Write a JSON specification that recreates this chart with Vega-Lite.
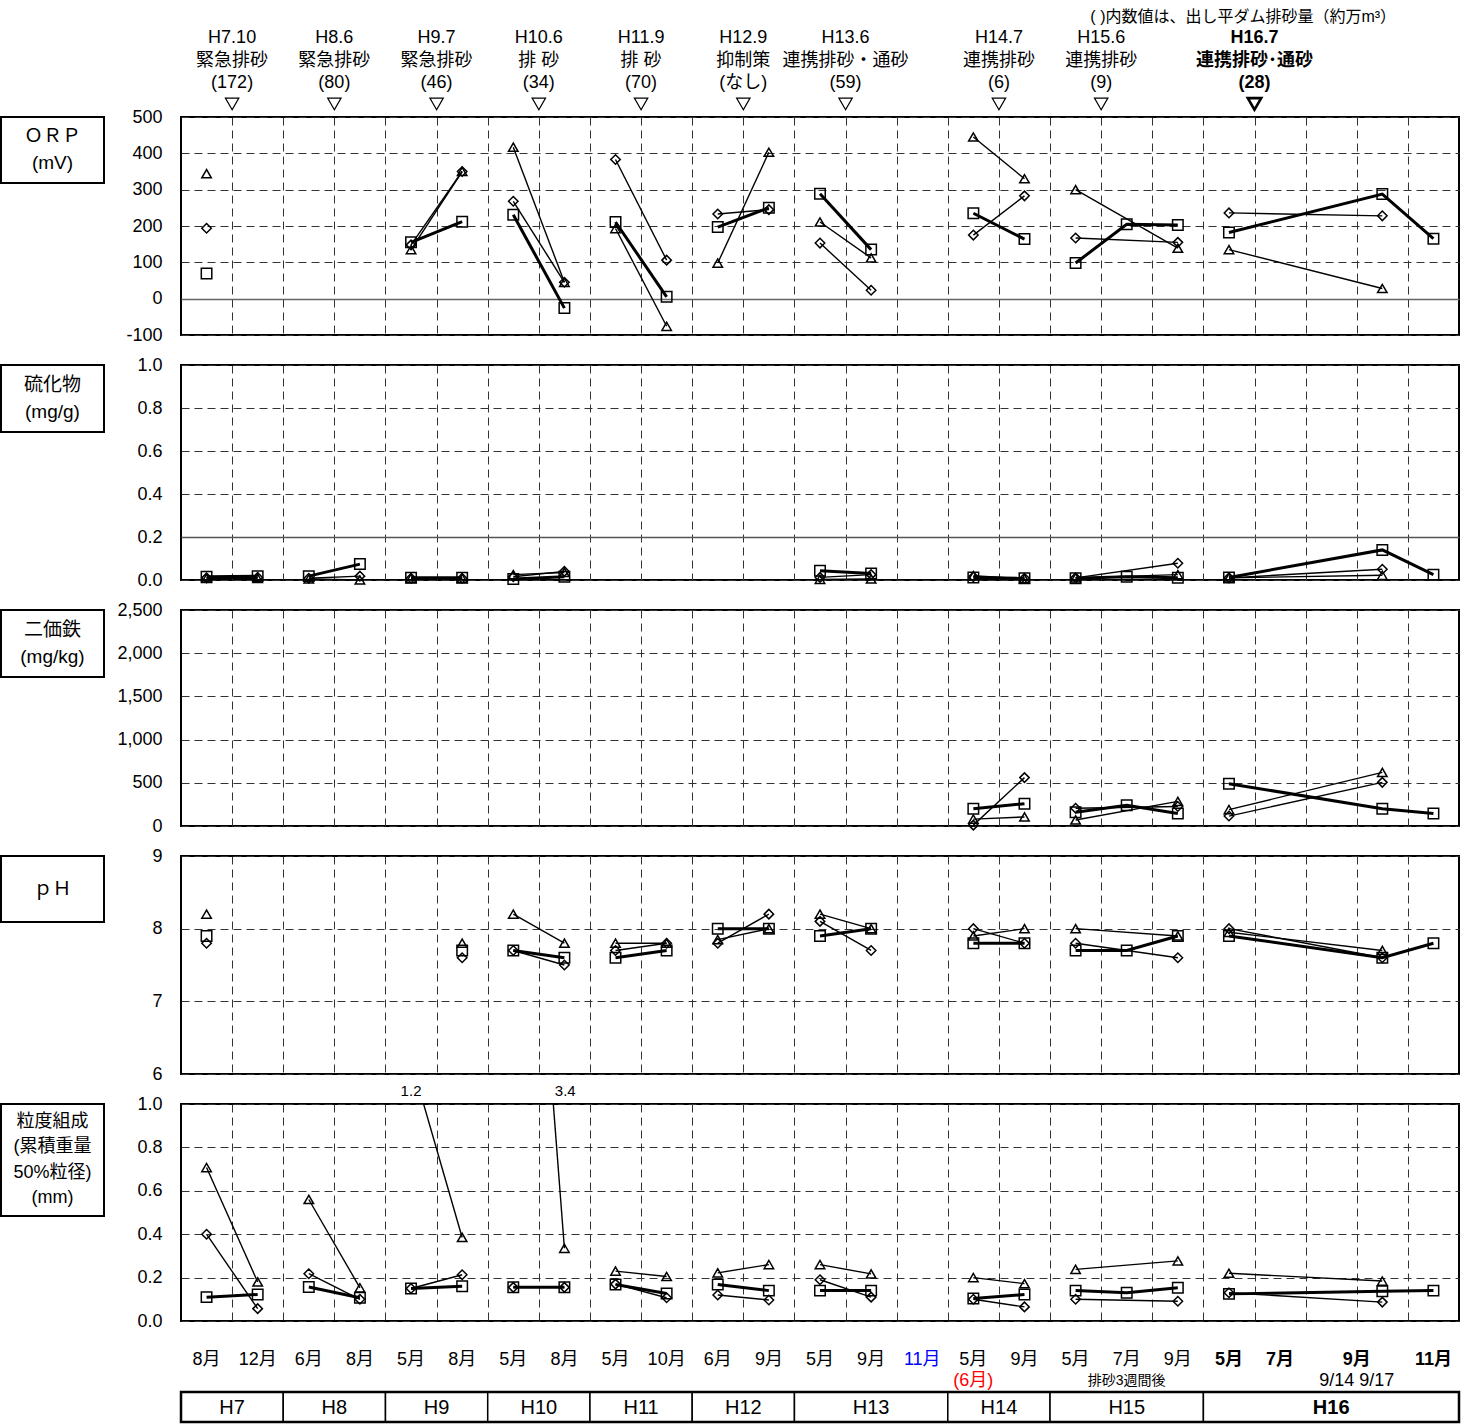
{
  "$schema": "https://vega.github.io/schema/vega-lite/v6.json",
  "padding": 0,
  "background": "white",
  "config": {
    "font": "Liberation Sans, Noto Sans CJK JP",
    "view": {"stroke": "#000", "strokeWidth": 2},
    "axis": {"labelFontSize": 18, "labelColor": "#000"},
    "axisX": {"grid": true, "labels": false, "ticks": false, "domain": false, "gridDash": [8, 5], "gridColor": "#333", "gridWidth": 1},
    "axisY": {"grid": true, "ticks": false, "domain": false, "gridDash": [8, 5], "gridColor": "#333", "gridWidth": 1, "labelPadding": 19, "labelFlush": false, "labelOverlap": false},
    "text": {"color": "#000"}
  },
  "datasets": {
    "obs": [
      {"p": "ORP", "g": "H7", "u": 0.5, "s1": 69, "s2": 194, "s3": 344},
      {"p": "ORP", "g": "H9", "u": 4.5, "s1": 155, "s2": 148, "s3": 135},
      {"p": "ORP", "g": "H9", "u": 5.5, "s1": 212, "s2": 350, "s3": 350},
      {"p": "ORP", "g": "H10", "u": 6.5, "s1": 231, "s2": 268, "s3": 417},
      {"p": "ORP", "g": "H10", "u": 7.5, "s1": -26, "s2": 45, "s3": 45},
      {"p": "ORP", "g": "H11", "u": 8.5, "s1": 211, "s2": 383, "s3": 193},
      {"p": "ORP", "g": "H11", "u": 9.5, "s1": 5, "s2": 106, "s3": -76},
      {"p": "ORP", "g": "H12", "u": 10.5, "s1": 197, "s2": 233, "s3": 98},
      {"p": "ORP", "g": "H12", "u": 11.5, "s1": 250, "s2": 245, "s3": 403},
      {"p": "ORP", "g": "H13", "u": 12.5, "s1": 289, "s2": 153, "s3": 211},
      {"p": "ORP", "g": "H13", "u": 13.5, "s1": 135, "s2": 23, "s3": 112},
      {"p": "ORP", "g": "H14", "u": 15.5, "s1": 235, "s2": 175, "s3": 445},
      {"p": "ORP", "g": "H14", "u": 16.5, "s1": 164, "s2": 283, "s3": 330},
      {"p": "ORP", "g": "H15", "u": 17.5, "s1": 98, "s2": 167, "s3": 300},
      {"p": "ORP", "g": "H15", "u": 18.5, "s1": 205},
      {"p": "ORP", "g": "H15", "u": 19.5, "s1": 203, "s2": 155, "s3": 139},
      {"p": "ORP", "g": "H16", "u": 20.5, "s1": 182, "s2": 236, "s3": 135},
      {"p": "ORP", "g": "H16", "u": 23.5, "s1": 288, "s2": 228, "s3": 28},
      {"p": "ORP", "g": "H16", "u": 24.5, "s1": 165},

      {"p": "S", "g": "H7", "u": 0.5, "s1": 0.015, "s2": 0.01, "s3": 0.008},
      {"p": "S", "g": "H7", "u": 1.5, "s1": 0.018, "s2": 0.012, "s3": 0.008},
      {"p": "S", "g": "H8", "u": 2.5, "s1": 0.018, "s2": 0.008, "s3": 0.005},
      {"p": "S", "g": "H8", "u": 3.5, "s1": 0.074, "s2": 0.018, "s3": 0.0},
      {"p": "S", "g": "H9", "u": 4.5, "s1": 0.01, "s2": 0.008, "s3": 0.008},
      {"p": "S", "g": "H9", "u": 5.5, "s1": 0.01, "s2": 0.008, "s3": 0.008},
      {"p": "S", "g": "H10", "u": 6.5, "s1": 0.005, "s2": 0.015, "s3": 0.025},
      {"p": "S", "g": "H10", "u": 7.5, "s1": 0.015, "s2": 0.04, "s3": 0.035},
      {"p": "S", "g": "H13", "u": 12.5, "s1": 0.043, "s2": 0.012, "s3": 0.003},
      {"p": "S", "g": "H13", "u": 13.5, "s1": 0.03, "s2": 0.025, "s3": 0.005},
      {"p": "S", "g": "H14", "u": 15.5, "s1": 0.012, "s2": 0.015, "s3": 0.02},
      {"p": "S", "g": "H14", "u": 16.5, "s1": 0.008, "s2": 0.008, "s3": 0.006},
      {"p": "S", "g": "H15", "u": 17.5, "s1": 0.008, "s2": 0.01, "s3": 0.01},
      {"p": "S", "g": "H15", "u": 18.5, "s1": 0.015},
      {"p": "S", "g": "H15", "u": 19.5, "s1": 0.01, "s2": 0.078, "s3": 0.025},
      {"p": "S", "g": "H16", "u": 20.5, "s1": 0.012, "s2": 0.01, "s3": 0.01},
      {"p": "S", "g": "H16", "u": 23.5, "s1": 0.14, "s2": 0.05, "s3": 0.022},
      {"p": "S", "g": "H16", "u": 24.5, "s1": 0.025},

      {"p": "Fe", "g": "H14", "u": 15.5, "s1": 200, "s2": 10, "s3": 80},
      {"p": "Fe", "g": "H14", "u": 16.5, "s1": 258, "s2": 560, "s3": 105},
      {"p": "Fe", "g": "H15", "u": 17.5, "s1": 160, "s2": 205, "s3": 70},
      {"p": "Fe", "g": "H15", "u": 18.5, "s1": 240},
      {"p": "Fe", "g": "H15", "u": 19.5, "s1": 145, "s2": 225, "s3": 285},
      {"p": "Fe", "g": "H16", "u": 20.5, "s1": 490, "s2": 115, "s3": 190},
      {"p": "Fe", "g": "H16", "u": 23.5, "s1": 200, "s2": 505, "s3": 620},
      {"p": "Fe", "g": "H16", "u": 24.5, "s1": 145},

      {"p": "pH", "g": "H7", "u": 0.5, "s1": 7.9, "s2": 7.8, "s3": 8.2},
      {"p": "pH", "g": "H9", "u": 5.5, "s1": 7.7, "s2": 7.6, "s3": 7.8},
      {"p": "pH", "g": "H10", "u": 6.5, "s1": 7.7, "s2": 7.7, "s3": 8.2},
      {"p": "pH", "g": "H10", "u": 7.5, "s1": 7.6, "s2": 7.5, "s3": 7.8},
      {"p": "pH", "g": "H11", "u": 8.5, "s1": 7.6, "s2": 7.7, "s3": 7.8},
      {"p": "pH", "g": "H11", "u": 9.5, "s1": 7.7, "s2": 7.8, "s3": 7.8},
      {"p": "pH", "g": "H12", "u": 10.5, "s1": 8.0, "s2": 7.8, "s3": 7.85},
      {"p": "pH", "g": "H12", "u": 11.5, "s1": 8.0, "s2": 8.2, "s3": 8.0},
      {"p": "pH", "g": "H13", "u": 12.5, "s1": 7.9, "s2": 8.1, "s3": 8.2},
      {"p": "pH", "g": "H13", "u": 13.5, "s1": 8.0, "s2": 7.7, "s3": 8.0},
      {"p": "pH", "g": "H14", "u": 15.5, "s1": 7.8, "s2": 8.0, "s3": 7.9},
      {"p": "pH", "g": "H14", "u": 16.5, "s1": 7.8, "s2": 7.8, "s3": 8.0},
      {"p": "pH", "g": "H15", "u": 17.5, "s1": 7.7, "s2": 7.8, "s3": 8.0},
      {"p": "pH", "g": "H15", "u": 18.5, "s1": 7.7},
      {"p": "pH", "g": "H15", "u": 19.5, "s1": 7.9, "s2": 7.6, "s3": 7.9},
      {"p": "pH", "g": "H16", "u": 20.5, "s1": 7.9, "s2": 8.0, "s3": 7.95},
      {"p": "pH", "g": "H16", "u": 23.5, "s1": 7.6, "s2": 7.6, "s3": 7.7},
      {"p": "pH", "g": "H16", "u": 24.5, "s1": 7.8},

      {"p": "D", "g": "H7", "u": 0.5, "s1": 0.11, "s2": 0.4, "s3": 0.707},
      {"p": "D", "g": "H7", "u": 1.5, "s1": 0.122, "s2": 0.057, "s3": 0.18},
      {"p": "D", "g": "H8", "u": 2.5, "s1": 0.157, "s2": 0.218, "s3": 0.56},
      {"p": "D", "g": "H8", "u": 3.5, "s1": 0.107, "s2": 0.1, "s3": 0.153},
      {"p": "D", "g": "H9", "u": 4.5, "s1": 0.15, "s2": 0.15, "s3": 1.2},
      {"p": "D", "g": "H9", "u": 5.5, "s1": 0.16, "s2": 0.213, "s3": 0.385},
      {"p": "D", "g": "H10", "u": 6.5, "s1": 0.155, "s2": 0.155, "s3": 3.4},
      {"p": "D", "g": "H10", "u": 7.5, "s1": 0.155, "s2": 0.155, "s3": 0.335},
      {"p": "D", "g": "H11", "u": 8.5, "s1": 0.168, "s2": 0.17, "s3": 0.23},
      {"p": "D", "g": "H11", "u": 9.5, "s1": 0.127, "s2": 0.107, "s3": 0.205},
      {"p": "D", "g": "H12", "u": 10.5, "s1": 0.168, "s2": 0.12, "s3": 0.222},
      {"p": "D", "g": "H12", "u": 11.5, "s1": 0.14, "s2": 0.097, "s3": 0.26},
      {"p": "D", "g": "H13", "u": 12.5, "s1": 0.14, "s2": 0.19, "s3": 0.26},
      {"p": "D", "g": "H13", "u": 13.5, "s1": 0.14, "s2": 0.11, "s3": 0.217},
      {"p": "D", "g": "H14", "u": 15.5, "s1": 0.104, "s2": 0.1, "s3": 0.2},
      {"p": "D", "g": "H14", "u": 16.5, "s1": 0.122, "s2": 0.065, "s3": 0.172},
      {"p": "D", "g": "H15", "u": 17.5, "s1": 0.14, "s2": 0.1, "s3": 0.238},
      {"p": "D", "g": "H15", "u": 18.5, "s1": 0.13},
      {"p": "D", "g": "H15", "u": 19.5, "s1": 0.153, "s2": 0.091, "s3": 0.277},
      {"p": "D", "g": "H16", "u": 20.5, "s1": 0.125, "s2": 0.13, "s3": 0.22},
      {"p": "D", "g": "H16", "u": 23.5, "s1": 0.137, "s2": 0.087, "s3": 0.184},
      {"p": "D", "g": "H16", "u": 24.5, "s1": 0.14}
    ],
    "events": [
      {"u": 1, "lines": ["H7.10", "緊急排砂", "(172)"]},
      {"u": 3, "lines": ["H8.6", "緊急排砂", "(80)"]},
      {"u": 5, "lines": ["H9.7", "緊急排砂", "(46)"]},
      {"u": 7, "lines": ["H10.6", "排 砂", "(34)"]},
      {"u": 9, "lines": ["H11.9", "排 砂", "(70)"]},
      {"u": 11, "lines": ["H12.9", "抑制策", "(なし)"]},
      {"u": 13, "lines": ["H13.6", "連携排砂・通砂", "(59)"]},
      {"u": 16, "lines": ["H14.7", "連携排砂", "(6)"]},
      {"u": 18, "lines": ["H15.6", "連携排砂", "(9)"]},
      {"u": 21, "lines": ["H16.7", "連携排砂･通砂", "(28)"]}
    ],
    "months": [
      {"u": 0.5, "m": "8月"}, {"u": 1.5, "m": "12月"}, {"u": 2.5, "m": "6月"}, {"u": 3.5, "m": "8月"},
      {"u": 4.5, "m": "5月"}, {"u": 5.5, "m": "8月"}, {"u": 6.5, "m": "5月"}, {"u": 7.5, "m": "8月"},
      {"u": 8.5, "m": "5月"}, {"u": 9.5, "m": "10月"}, {"u": 10.5, "m": "6月"}, {"u": 11.5, "m": "9月"},
      {"u": 12.5, "m": "5月"}, {"u": 13.5, "m": "9月"}, {"u": 14.5, "m": "11月"}, {"u": 15.5, "m": "5月"},
      {"u": 16.5, "m": "9月"}, {"u": 17.5, "m": "5月"}, {"u": 18.5, "m": "7月"}, {"u": 19.5, "m": "9月"},
      {"u": 20.5, "m": "5月"}, {"u": 21.5, "m": "7月"}, {"u": 23, "m": "9月"}, {"u": 24.5, "m": "11月"}
    ],
    "subnotes": [
      {"u": 15.5, "t": "(6月)"},
      {"u": 18.5, "t": "排砂3週間後"},
      {"u": 23, "t": "9/14  9/17"}
    ],
    "years": [
      {"y": "H7", "u0": 0, "u1": 2}, {"y": "H8", "u0": 2, "u1": 4}, {"y": "H9", "u0": 4, "u1": 6},
      {"y": "H10", "u0": 6, "u1": 8}, {"y": "H11", "u0": 8, "u1": 10}, {"y": "H12", "u0": 10, "u1": 12},
      {"y": "H13", "u0": 12, "u1": 15}, {"y": "H14", "u0": 15, "u1": 17}, {"y": "H15", "u0": 17, "u1": 20},
      {"y": "H16", "u0": 20, "u1": 25}
    ]
  },
  "columns": 2,
  "spacing": {"row": 30, "column": 77},
  "bounds": "flush",
  "align": "each",
  "concat": [
    {"width": 103, "height": 87, "view": {"stroke": null}, "data": {"values": [{}]}, "mark": {"type": "text", "text": ""}},
    {
      "width": 1278,
      "height": 87,
      "view": {"stroke": null},
      "data": {"name": "events"},
      "layer": [
        {
          "transform": [{"filter": "datum.u !== 21"}],
          "mark": {"type": "text", "fontSize": 18, "lineHeight": 22.5, "baseline": "middle"},
          "encoding": {
            "x": {"field": "u", "type": "quantitative", "scale": {"domain": [0, 25], "nice": false, "zero": false}, "axis": null},
            "y": {"datum": 1.75, "type": "quantitative", "scale": {"domain": [0, 4], "reverse": true, "nice": false, "zero": false}, "axis": null},
            "text": {"field": "lines", "type": "nominal"}
          }
        },
        {
          "transform": [{"filter": "datum.u === 21"}],
          "mark": {"type": "text", "fontSize": 18, "lineHeight": 22.5, "baseline": "middle", "fontWeight": "bold"},
          "encoding": {
            "x": {"field": "u", "type": "quantitative", "axis": null},
            "y": {"datum": 1.75, "type": "quantitative", "axis": null},
            "text": {"field": "lines", "type": "nominal"}
          }
        },
        {
          "transform": [{"filter": "datum.u !== 21"}],
          "mark": {"type": "point", "shape": "triangle-down", "filled": false, "color": "#000", "size": 180, "strokeWidth": 1.2, "opacity": 1},
          "encoding": {
            "x": {"field": "u", "type": "quantitative", "axis": null},
            "y": {"datum": 4.78, "type": "quantitative", "axis": null}
          }
        },
        {
          "transform": [{"filter": "datum.u === 21"}],
          "mark": {"type": "point", "shape": "triangle-down", "filled": false, "color": "#000", "size": 180, "strokeWidth": 2.6, "opacity": 1},
          "encoding": {
            "x": {"field": "u", "type": "quantitative", "axis": null},
            "y": {"datum": 4.78, "type": "quantitative", "axis": null}
          }
        },
        {
          "data": {"values": [{"t": "( )内数値は、出し平ダム排砂量（約万m³）"}]},
          "mark": {"type": "text", "fontSize": 16, "align": "right", "baseline": "middle"},
          "encoding": {
            "x": {"datum": 23.77, "type": "quantitative", "axis": null},
            "y": {"datum": 0.78, "type": "quantitative", "axis": null},
            "text": {"field": "t", "type": "nominal"}
          }
        }
      ]
    },

    {
      "width": 103, "height": 66,
      "data": {"values": [{"t": ["ＯＲＰ", "(mV)"]}]},
      "mark": {"type": "text", "fontSize": 19, "lineHeight": 27, "baseline": "middle"},
      "encoding": {
        "x": {"datum": 0.5, "type": "quantitative", "scale": {"domain": [0, 1]}, "axis": null},
        "y": {"datum": 0.705, "type": "quantitative", "scale": {"domain": [0, 1]}, "axis": null},
        "text": {"field": "t", "type": "nominal"}
      }
    },
    {
      "width": 1278, "height": 218,
      "data": {"name": "obs"},
      "transform": [
        {"filter": "datum.p === 'ORP'"},
        {"fold": ["s1", "s2", "s3"], "as": ["s", "v"]},
        {"filter": "isValid(datum.v)"}
      ],
      "encoding": {
        "x": {"field": "u", "type": "quantitative", "scale": {"domain": [0, 25], "nice": false, "zero": false},
              "axis": {"title": null, "values": [1,2,3,4,5,6,7,8,9,10,11,12,13,14,15,16,17,18,19,20,21,22,23,24]}},
        "y": {"field": "v", "type": "quantitative", "scale": {"domain": [-100, 500], "nice": false, "zero": false},
              "axis": {"title": null, "values": [-100, 0, 100, 200, 300, 400, 500],
                       "labelExpr": "replace(datum.label, '−', '-')",
                       "gridDash": {"condition": {"test": "datum.value === 0", "value": [1, 0]}, "value": [8, 5]},
                       "gridColor": {"condition": {"test": "datum.value === 0", "value": "#666"}, "value": "#333"},
                       "gridWidth": {"condition": {"test": "datum.value === 0", "value": 1.5}, "value": 1}}}
      },
      "layer": [
        {"transform": [{"filter": "datum.s !== 's1'"}], "mark": {"type": "line", "color": "#000", "strokeWidth": 1.4},
         "encoding": {"detail": [{"field": "g"}, {"field": "s"}]}},
        {"transform": [{"filter": "datum.s === 's1'"}], "mark": {"type": "line", "color": "#000", "strokeWidth": 3},
         "encoding": {"detail": {"field": "g"}}},
        {"mark": {"type": "point", "filled": false, "color": "#000", "strokeWidth": 1.5, "opacity": 1},
         "encoding": {
           "shape": {"field": "s", "type": "nominal", "scale": {"domain": ["s1", "s2", "s3"], "range": ["square", "diamond", "triangle-up"]}, "legend": null},
           "size": {"condition": {"test": "datum.s === 's1'", "value": 110}, "value": 90}
         }}
      ]
    },

    {
      "width": 103, "height": 67,
      "data": {"values": [{"t": ["硫化物", "(mg/g)"]}]},
      "mark": {"type": "text", "fontSize": 19, "lineHeight": 27, "baseline": "middle"},
      "encoding": {
        "x": {"datum": 0.5, "type": "quantitative", "scale": {"domain": [0, 1]}, "axis": null},
        "y": {"datum": 0.7, "type": "quantitative", "scale": {"domain": [0, 1]}, "axis": null},
        "text": {"field": "t", "type": "nominal"}
      }
    },
    {
      "width": 1278, "height": 215,
      "data": {"name": "obs"},
      "transform": [
        {"filter": "datum.p === 'S'"},
        {"fold": ["s1", "s2", "s3"], "as": ["s", "v"]},
        {"filter": "isValid(datum.v)"}
      ],
      "encoding": {
        "x": {"field": "u", "type": "quantitative", "scale": {"domain": [0, 25], "nice": false, "zero": false},
              "axis": {"title": null, "values": [1,2,3,4,5,6,7,8,9,10,11,12,13,14,15,16,17,18,19,20,21,22,23,24]}},
        "y": {"field": "v", "type": "quantitative", "scale": {"domain": [0, 1], "nice": false, "zero": false},
              "axis": {"title": null, "values": [0, 0.2, 0.4, 0.6, 0.8, 1.0], "format": ".1f",
                       "gridDash": {"condition": {"test": "datum.value === 0.2", "value": [1, 0]}, "value": [8, 5]},
                       "gridColor": {"condition": {"test": "datum.value === 0.2", "value": "#555"}, "value": "#333"},
                       "gridWidth": {"condition": {"test": "datum.value === 0.2", "value": 1.6}, "value": 1}}}
      },
      "layer": [
        {"data": {"values": [{"t": "水産用水基準における正常泥の範囲：硫化物≦0.2(mg/g)"}]},
         "mark": {"type": "text", "align": "left", "baseline": "bottom", "dy": -3, "fontSize": 17},
         "encoding": {
           "x": {"datum": 0.2, "type": "quantitative"},
           "y": {"datum": 0.2, "type": "quantitative"},
           "text": {"field": "t", "type": "nominal"}
         }},
        {"transform": [{"filter": "datum.s !== 's1'"}], "mark": {"type": "line", "color": "#000", "strokeWidth": 1.4},
         "encoding": {"detail": [{"field": "g"}, {"field": "s"}]}},
        {"transform": [{"filter": "datum.s === 's1'"}], "mark": {"type": "line", "color": "#000", "strokeWidth": 3},
         "encoding": {"detail": {"field": "g"}}},
        {"mark": {"type": "point", "filled": false, "color": "#000", "strokeWidth": 1.5, "opacity": 1},
         "encoding": {
           "shape": {"field": "s", "type": "nominal", "scale": {"domain": ["s1", "s2", "s3"], "range": ["square", "diamond", "triangle-up"]}, "legend": null},
           "size": {"condition": {"test": "datum.s === 's1'", "value": 110}, "value": 90}
         }}
      ]
    },

    {
      "width": 103, "height": 67,
      "data": {"values": [{"t": ["二価鉄", "(mg/kg)"]}]},
      "mark": {"type": "text", "fontSize": 19, "lineHeight": 27, "baseline": "middle"},
      "encoding": {
        "x": {"datum": 0.5, "type": "quantitative", "scale": {"domain": [0, 1]}, "axis": null},
        "y": {"datum": 0.7, "type": "quantitative", "scale": {"domain": [0, 1]}, "axis": null},
        "text": {"field": "t", "type": "nominal"}
      }
    },
    {
      "width": 1278, "height": 216,
      "data": {"name": "obs"},
      "transform": [
        {"filter": "datum.p === 'Fe'"},
        {"fold": ["s1", "s2", "s3"], "as": ["s", "v"]},
        {"filter": "isValid(datum.v)"}
      ],
      "encoding": {
        "x": {"field": "u", "type": "quantitative", "scale": {"domain": [0, 25], "nice": false, "zero": false},
              "axis": {"title": null, "values": [1,2,3,4,5,6,7,8,9,10,11,12,13,14,15,16,17,18,19,20,21,22,23,24]}},
        "y": {"field": "v", "type": "quantitative", "scale": {"domain": [0, 2500], "nice": false, "zero": false},
              "axis": {"title": null, "values": [0, 500, 1000, 1500, 2000, 2500], "format": ",.0f"}}
      },
      "layer": [
        {"transform": [{"filter": "datum.s !== 's1'"}], "mark": {"type": "line", "color": "#000", "strokeWidth": 1.4},
         "encoding": {"detail": [{"field": "g"}, {"field": "s"}]}},
        {"transform": [{"filter": "datum.s === 's1'"}], "mark": {"type": "line", "color": "#000", "strokeWidth": 3},
         "encoding": {"detail": {"field": "g"}}},
        {"mark": {"type": "point", "filled": false, "color": "#000", "strokeWidth": 1.5, "opacity": 1},
         "encoding": {
           "shape": {"field": "s", "type": "nominal", "scale": {"domain": ["s1", "s2", "s3"], "range": ["square", "diamond", "triangle-up"]}, "legend": null},
           "size": {"condition": {"test": "datum.s === 's1'", "value": 110}, "value": 90}
         }}
      ]
    },

    {
      "width": 103, "height": 66,
      "data": {"values": [{"t": "ｐＨ"}]},
      "mark": {"type": "text", "fontSize": 19, "baseline": "middle"},
      "encoding": {
        "x": {"datum": 0.5, "type": "quantitative", "scale": {"domain": [0, 1]}, "axis": null},
        "y": {"datum": 0.5, "type": "quantitative", "scale": {"domain": [0, 1]}, "axis": null},
        "text": {"field": "t", "type": "nominal"}
      }
    },
    {
      "width": 1278, "height": 218,
      "data": {"name": "obs"},
      "transform": [
        {"filter": "datum.p === 'pH'"},
        {"fold": ["s1", "s2", "s3"], "as": ["s", "v"]},
        {"filter": "isValid(datum.v)"}
      ],
      "encoding": {
        "x": {"field": "u", "type": "quantitative", "scale": {"domain": [0, 25], "nice": false, "zero": false},
              "axis": {"title": null, "values": [1,2,3,4,5,6,7,8,9,10,11,12,13,14,15,16,17,18,19,20,21,22,23,24]}},
        "y": {"field": "v", "type": "quantitative", "scale": {"domain": [6, 9], "nice": false, "zero": false},
              "axis": {"title": null, "values": [6, 7, 8, 9]}}
      },
      "layer": [
        {"transform": [{"filter": "datum.s !== 's1'"}], "mark": {"type": "line", "color": "#000", "strokeWidth": 1.4},
         "encoding": {"detail": [{"field": "g"}, {"field": "s"}]}},
        {"transform": [{"filter": "datum.s === 's1'"}], "mark": {"type": "line", "color": "#000", "strokeWidth": 3},
         "encoding": {"detail": {"field": "g"}}},
        {"mark": {"type": "point", "filled": false, "color": "#000", "strokeWidth": 1.5, "opacity": 1},
         "encoding": {
           "shape": {"field": "s", "type": "nominal", "scale": {"domain": ["s1", "s2", "s3"], "range": ["square", "diamond", "triangle-up"]}, "legend": null},
           "size": {"condition": {"test": "datum.s === 's1'", "value": 110}, "value": 90}
         }}
      ]
    },

    {
      "width": 103, "height": 112,
      "data": {"values": [{"t": ["粒度組成", "(累積重量", "50%粒径)", "(mm)"]}]},
      "mark": {"type": "text", "fontSize": 18, "lineHeight": 25.5, "baseline": "middle"},
      "encoding": {
        "x": {"datum": 0.5, "type": "quantitative", "scale": {"domain": [0, 1]}, "axis": null},
        "y": {"datum": 0.84, "type": "quantitative", "scale": {"domain": [0, 1]}, "axis": null},
        "text": {"field": "t", "type": "nominal"}
      }
    },
    {
      "width": 1278, "height": 217,
      "data": {"name": "obs"},
      "transform": [
        {"filter": "datum.p === 'D'"},
        {"fold": ["s1", "s2", "s3"], "as": ["s", "v"]},
        {"filter": "isValid(datum.v)"}
      ],
      "encoding": {
        "x": {"field": "u", "type": "quantitative", "scale": {"domain": [0, 25], "nice": false, "zero": false},
              "axis": {"title": null, "values": [1,2,3,4,5,6,7,8,9,10,11,12,13,14,15,16,17,18,19,20,21,22,23,24]}},
        "y": {"field": "v", "type": "quantitative", "scale": {"domain": [0, 1], "nice": false, "zero": false},
              "axis": {"title": null, "values": [0, 0.2, 0.4, 0.6, 0.8, 1.0], "format": ".1f"}}
      },
      "layer": [
        {"transform": [{"filter": "datum.s !== 's1'"}], "mark": {"type": "line", "color": "#000", "strokeWidth": 1.4, "clip": true},
         "encoding": {"detail": [{"field": "g"}, {"field": "s"}]}},
        {"transform": [{"filter": "datum.s === 's1'"}], "mark": {"type": "line", "color": "#000", "strokeWidth": 3, "clip": true},
         "encoding": {"detail": {"field": "g"}}},
        {"transform": [{"filter": "datum.v <= 1"}],
         "mark": {"type": "point", "filled": false, "color": "#000", "strokeWidth": 1.5, "opacity": 1},
         "encoding": {
           "shape": {"field": "s", "type": "nominal", "scale": {"domain": ["s1", "s2", "s3"], "range": ["square", "diamond", "triangle-up"]}, "legend": null},
           "size": {"condition": {"test": "datum.s === 's1'", "value": 110}, "value": 90}
         }},
        {"transform": [{"filter": "datum.v > 1 && datum.u < 6"}],
         "mark": {"type": "text", "baseline": "bottom", "dy": -5, "fontSize": 15},
         "encoding": {"y": {"datum": 1, "type": "quantitative"}, "text": {"field": "v", "type": "quantitative"}}},
        {"transform": [{"filter": "datum.v > 1 && datum.u > 6"}],
         "mark": {"type": "text", "baseline": "bottom", "dy": -5, "dx": 52, "fontSize": 15},
         "encoding": {"y": {"datum": 1, "type": "quantitative"}, "text": {"field": "v", "type": "quantitative"}}}
      ]
    },

    {"width": 103, "height": 76, "view": {"stroke": null}, "data": {"values": [{}]}, "mark": {"type": "text", "text": ""}},
    {
      "width": 1278,
      "height": 76,
      "view": {"stroke": null},
      "layer": [
        {
          "data": {"name": "months"},
          "transform": [{"filter": "datum.u < 20"}],
          "mark": {"type": "text", "fontSize": 18, "baseline": "middle"},
          "encoding": {
            "x": {"field": "u", "type": "quantitative", "scale": {"domain": [0, 25], "nice": false, "zero": false}, "axis": null},
            "y": {"datum": 0.9, "type": "quantitative", "scale": {"domain": [0, 7.6], "reverse": true, "nice": false, "zero": false}, "axis": null},
            "text": {"field": "m", "type": "nominal"},
            "color": {"condition": {"test": "datum.u === 14.5", "value": "#0000ff"}, "value": "#000"}
          }
        },
        {
          "data": {"name": "months"},
          "transform": [{"filter": "datum.u >= 20"}],
          "mark": {"type": "text", "fontSize": 18, "baseline": "middle", "fontWeight": "bold"},
          "encoding": {
            "x": {"field": "u", "type": "quantitative", "axis": null},
            "y": {"datum": 0.9, "type": "quantitative", "axis": null},
            "text": {"field": "m", "type": "nominal"}
          }
        },
        {
          "data": {"name": "subnotes"},
          "mark": {"type": "text", "baseline": "middle"},
          "encoding": {
            "x": {"field": "u", "type": "quantitative", "axis": null},
            "y": {"datum": 3.0, "type": "quantitative", "axis": null},
            "text": {"field": "t", "type": "nominal"},
            "color": {"condition": {"test": "datum.u === 15.5", "value": "#ff0000"}, "value": "#000"},
            "size": {"condition": {"test": "datum.u === 18.5", "value": 14}, "value": 18}
          }
        },
        {
          "data": {"name": "years"},
          "mark": {"type": "rect", "fill": "#fff", "stroke": "#000", "strokeWidth": 1.5},
          "encoding": {
            "x": {"field": "u0", "type": "quantitative", "axis": null},
            "x2": {"field": "u1"},
            "y": {"datum": 4.1, "type": "quantitative", "axis": null},
            "y2": {"datum": 7.1}
          }
        },
        {
          "data": {"values": [{}]},
          "mark": {"type": "rect", "fill": null, "fillOpacity": 0, "stroke": "#000", "strokeWidth": 2.5},
          "encoding": {
            "x": {"datum": 0, "type": "quantitative", "axis": null},
            "x2": {"datum": 25},
            "y": {"datum": 4.1, "type": "quantitative", "axis": null},
            "y2": {"datum": 7.1}
          }
        },
        {
          "data": {"name": "years"},
          "transform": [{"calculate": "(datum.u0 + datum.u1) / 2", "as": "mid"}, {"filter": "datum.y !== 'H16'"}],
          "mark": {"type": "text", "fontSize": 20, "baseline": "middle"},
          "encoding": {
            "x": {"field": "mid", "type": "quantitative", "axis": null},
            "y": {"datum": 5.7, "type": "quantitative", "axis": null},
            "text": {"field": "y", "type": "nominal"}
          }
        },
        {
          "data": {"name": "years"},
          "transform": [{"calculate": "(datum.u0 + datum.u1) / 2", "as": "mid"}, {"filter": "datum.y === 'H16'"}],
          "mark": {"type": "text", "fontSize": 20, "baseline": "middle", "fontWeight": "bold"},
          "encoding": {
            "x": {"field": "mid", "type": "quantitative", "axis": null},
            "y": {"datum": 5.7, "type": "quantitative", "axis": null},
            "text": {"field": "y", "type": "nominal"}
          }
        }
      ]
    }
  ]
}
